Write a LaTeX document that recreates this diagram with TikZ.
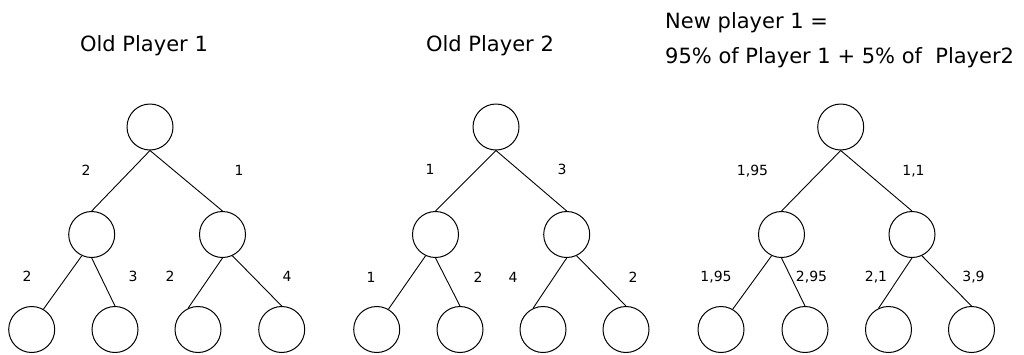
\documentclass[tikz,border=0pt]{standalone}
\usepackage{fontspec}
\setmainfont{DejaVu Sans}
\begin{document}
\begin{tikzpicture}[x=1pt,y=-1pt,
  vertex/.style={circle,draw,line width=1pt,minimum size=46pt,inner sep=0pt},
  edge/.style={line width=0.9pt},
  weight/.style={font=\fontsize{14}{16}\selectfont,anchor=base,inner sep=0pt},
  heading/.style={font=\fontsize{21}{24}\selectfont,inner sep=0pt}]
\useasboundingbox[fill=white] (0,0) rectangle (1024,354);

% tree builder: #1 prefix, root x,y; children x; leaves x
\newcommand{\gametree}[9]{%
  \node[vertex] (#1r) at (#2,127) {};
  \node[vertex] (#1a) at (#3,234.5) {};
  \node[vertex] (#1b) at (#4,234.5) {};
  \node[vertex] (#1aa) at (#5,329.5) {};
  \node[vertex] (#1ab) at (#6,329.5) {};
  \node[vertex] (#1ba) at (#7,329.5) {};
  \node[vertex] (#1bb) at (#8,329.5) {};
  \draw[edge] (#1r.south) -- (#1a.north);
  \draw[edge] (#1r.south) -- (#1b.north);
  \draw[edge] (#1a.-115) -- (#1aa.60);
  \draw[edge] (#1a.south) -- (#1ab.north);
  \draw[edge] (#1b.south) -- (#1ba.115);
  \draw[edge] (#1b.-65) -- (#1bb.north);
}

% Old player 1
\gametree{p}{150}{91.7}{222.5}{31.7}{115}{198}{281.7}{}
\node[weight] (pw1) at (86,175) {2};
\node[weight] (pw2) at (239,175) {1};
\node[weight] (pw3) at (27,281) {2};
\node[weight] (pw4) at (133,281) {3};
\node[weight] (pw5) at (170,281) {2};
\node[weight] (pw6) at (287,281) {4};
\node[heading,anchor=base] (pt) at (144,51) {Old Player 1};

% Old player 2
\gametree{q}{496}{435.5}{566.7}{376.7}{460}{543}{626}{}
\node[weight] (qw1) at (430,174) {1};
\node[weight] (qw2) at (562,174) {3};
\node[weight] (qw3) at (371,282) {1};
\node[weight] (qw4) at (478,282) {2};
\node[weight] (qw5) at (513,282) {4};
\node[weight] (qw6) at (633,282) {2};
\node[heading,anchor=base] (qt) at (490,51.5) {Old Player 2};

% Blended player
\gametree{n}{840.7}{781.5}{912}{721}{805}{888.5}{971.5}{}
\node[weight] (nw1) at (752.5,175) {1,95};
\node[weight] (nw2) at (913.5,175) {1,1};
\node[weight] (nw3) at (716,281) {1,95};
\node[weight] (nw4) at (811.5,281) {2,95};
\node[weight] (nw5) at (876,281) {2,1};
\node[weight] (nw6) at (973.5,281) {3,9};
\node[heading,anchor=base west] (nt1) at (665,28) {New player 1 =};
\node[heading,anchor=base west] (nt2) at (665,63) {95\% of Player 1 + 5\% of \ Player2};
\end{tikzpicture}
\end{document}
